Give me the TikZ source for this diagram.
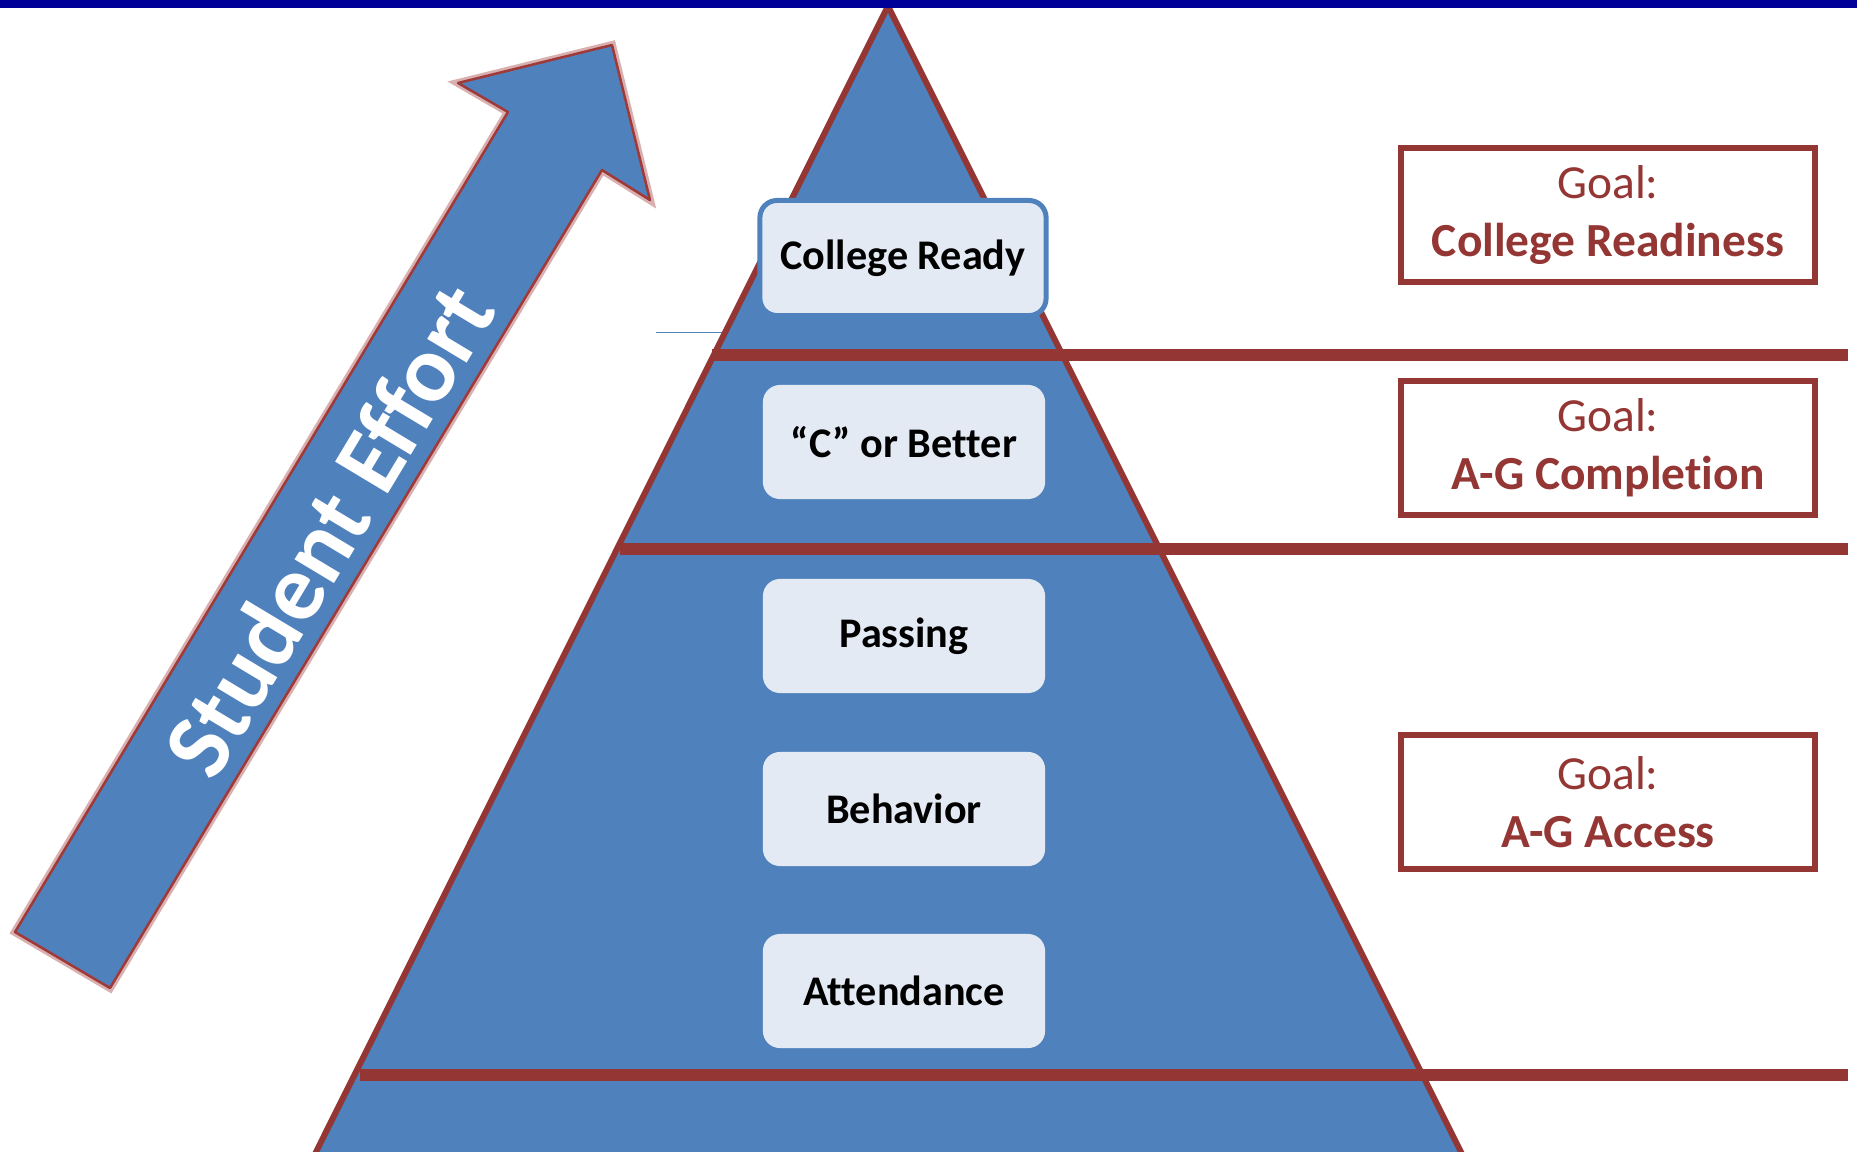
\documentclass[tikz,border=0pt]{standalone}
\usepackage{fontspec}
\setmainfont{Carlito}[Ligatures=NoCommon]
\definecolor{pyrblue}{HTML}{4F81BD}
\definecolor{goalred}{HTML}{943634}
\definecolor{boxfill}{HTML}{E3EAF4}
\definecolor{topbar}{HTML}{000099}
\definecolor{arrowedge}{HTML}{A03A38}
\tikzset{
  level/.style={fill=boxfill, rounded corners=0.17cm, minimum width=2.82cm, minimum height=1.14cm, inner sep=0pt, font=\fontsize{12}{14}\selectfont\bfseries},
  goal/.style={draw=goalred, line width=0.06cm, fill=white, minimum width=4.14cm, minimum height=1.33cm, align=center, text=goalred, font=\fontsize{13.5}{16.5}\selectfont},
  band/.style={goalred, line width=0.12cm}
}
\begin{document}
\begin{tikzpicture}[x=0.01cm,y=-0.01cm]
\useasboundingbox (0,0) rectangle (1857,1151);
\clip (0,0) rectangle (1857,1151);
\draw[pyrblue, line width=0.01cm] (656,332) -- (726,332);
\draw[goalred, fill=pyrblue, line width=0.06cm, line join=round] (888,6) -- (307,1170) -- (1470,1170) -- cycle;
\draw[band] (712,355) -- (1848,355) (620,549) -- (1848,549) (360,1075) -- (1848,1075);
\node[level, draw=pyrblue, line width=0.05cm, minimum width=2.86cm, minimum height=1.15cm] (ready) at (903,258) {College Ready};
\node[level] (better) at (904,442) {“C” or Better};
\node[level] (passing) at (904,636) {Passing};
\node[level] (behavior) at (904,809) {Behavior};
\node[level] (attendance) at (904,991) {Attendance};
\node[goal] (readiness) at (1608,215) {Goal:\\\textbf{College Readiness}};
\node[goal] (completion) at (1608,448) {Goal:\\\textbf{A-G Completion}};
\node[goal] (access) at (1608,802) {Goal:\\\textbf{A-G Access}};
\draw[arrowedge, line width=0.025cm, fill=pyrblue, line join=round, preaction={draw=arrowedge!40, line width=0.08cm}] (15,932) -- (508,112) -- (458,83) -- (612,45) -- (650,200) -- (602,170) -- (110,988) -- cycle;
\node[rotate=59, text=white, font=\fontsize{27}{30}\selectfont\bfseries] (effort) at (328,530) {Student Effort};
\fill[topbar] (0,0) rectangle (1857,8);
\end{tikzpicture}
\end{document}
